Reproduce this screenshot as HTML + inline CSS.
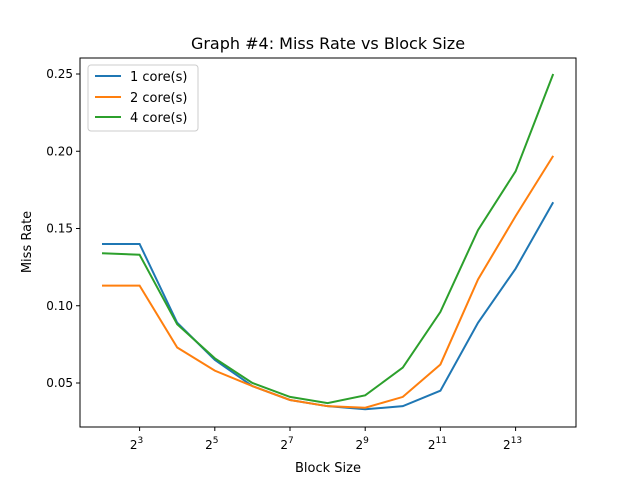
<!DOCTYPE html>
<html><head><meta charset="utf-8"><style>body{margin:0;background:#fff}svg{font-family:"DejaVu Sans","Liberation Sans",sans-serif}</style></head>
<body>
<svg id="c" width="640" height="480" xmlns="http://www.w3.org/2000/svg">
<rect width="640" height="480" fill="#fff"/>
<text x="328" y="49" font-size="16" text-anchor="middle">Graph #4: Miss Rate vs Block Size</text>
<g id="plot"></g>
<rect x="80" y="58" width="496" height="369" fill="none" stroke="#000" stroke-width="1"/>
<text x="328" y="472" font-size="13" text-anchor="middle">Block Size</text>
<text x="31" y="242" font-size="13" text-anchor="middle" transform="rotate(-90 31 242)">Miss Rate</text>
<g>
<rect x="88" y="65" width="110" height="66" rx="3" fill="#fff" fill-opacity="0.8" stroke="#ccc"/>
<line x1="95" y1="76" x2="121" y2="76" stroke="#1f77b4" stroke-width="2"/><text x="130" y="81" font-size="13">1 core(s)</text>
<line x1="95" y1="97" x2="121" y2="97" stroke="#ff7f0e" stroke-width="2"/><text x="130" y="102" font-size="13">2 core(s)</text>
<line x1="95" y1="117" x2="121" y2="117" stroke="#2ca02c" stroke-width="2"/><text x="130" y="122" font-size="13">4 core(s)</text>
</g>
</svg>
<script>
const exponents=[2,3,4,5,6,7,8,9,10,11,12,13,14];
const core1=[0.140,0.140,0.089,0.065,0.048,0.039,0.035,0.033,0.035,0.045,0.089,0.124,0.167];
const core2=[0.113,0.113,0.073,0.058,0.048,0.039,0.035,0.034,0.041,0.062,0.117,0.158,0.197];
const core4=[0.134,0.133,0.088,0.066,0.050,0.041,0.037,0.042,0.060,0.096,0.149,0.187,0.250];
const xTicks=[3,5,7,9,11,13];
const yTicks=[0.05,0.10,0.15,0.20,0.25];
const NS="http://www.w3.org/2000/svg";
const g=document.getElementById('plot');
const xs=e=>102+(e-2)*37.6;
const ys=v=>383-(v-0.05)*1545;
function mk(t,a){const el=document.createElementNS(NS,t);for(const k in a)el.setAttribute(k,a[k]);g.appendChild(el);return el;}
xTicks.forEach(e=>{const x=xs(e);
 const l=mk('line',{x1:x,y1:427,x2:x,y2:431,stroke:'#000'});
 
 
 const t=mk('text',{x:x-3,y:449,'font-size':12,'text-anchor':'middle'});
 
 
 t.innerHTML='2<tspan dy="-6" font-size="9">'+e+'</tspan>';});
yTicks.forEach(v=>{const y=ys(v);
 const l=mk('line',{x1:76,y1:y,x2:80,y2:y,stroke:'#000'});
 
 
 const t=mk('text',{x:73,y:y+4,'font-size':12,'text-anchor':'end'});
 
 
 t.textContent=v.toFixed(2);});
[[core1,'#1f77b4','line-1-core'],[core2,'#ff7f0e','line-2-core'],[core4,'#2ca02c','line-4-core']].forEach(([d,c,n])=>{
 const p=mk('polyline',{points:d.map((v,i)=>xs(exponents[i])+','+ys(v)).join(' '),fill:'none',stroke:c,'stroke-width':2});
 
 });
</script>
</body></html>
